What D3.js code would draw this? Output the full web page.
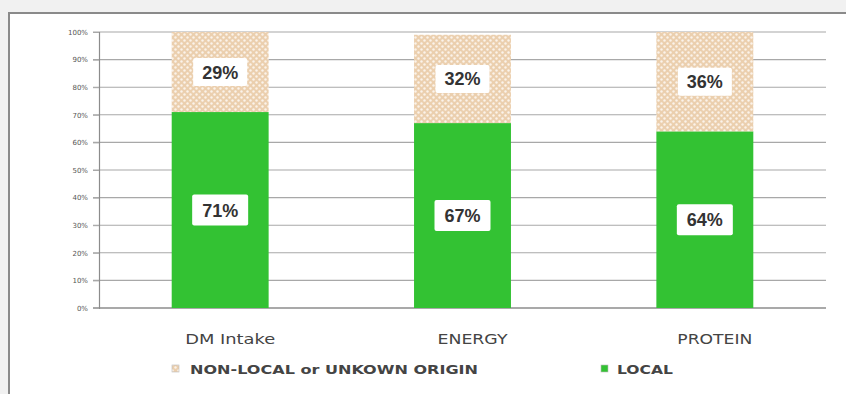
<!DOCTYPE html>
<html>
<head>
<meta charset="utf-8">
<script src="https://cdn.jsdelivr.net/npm/d3@7"></script>
<style>
  html, body { margin: 0; padding: 0; background: #f1f1f1; }
  svg { display: block; }
</style>
</head>
<body>
<svg id="chart" width="846" height="394"></svg>
<script>
// Share of intake by origin, per nutrient
const categories = ["DM Intake", "ENERGY", "PROTEIN"];
const localValues = [71, 67, 64];
const nonLocalValues = [29, 32, 36];
const yTicks = [0, 10, 20, 30, 40, 50, 60, 70, 80, 90, 100];
const seriesNames = ["NON-LOCAL or UNKOWN ORIGIN", "LOCAL"];

const svg = d3.select("#chart");
const W = 846, H = 394;

// chart frame
svg.append("rect").attr("x", 0).attr("y", 0).attr("width", W).attr("height", H).attr("fill", "#f1f1f1");
svg.append("rect").attr("x", 9).attr("y", 13).attr("width", W + 10).attr("height", H + 10)
  .attr("fill", "#ffffff").attr("stroke", "#8a8a8a").attr("stroke-width", 2);

// dotted fill for the non-local segment
const defs = svg.append("defs");
const pat = defs.append("pattern").attr("id", "dots").attr("patternUnits", "userSpaceOnUse")
  .attr("width", 6).attr("height", 6);
pat.append("rect").attr("width", 6).attr("height", 6).attr("fill", "#ebcfae");
pat.append("circle").attr("cx", 1.5).attr("cy", 1.5).attr("r", 1.2).attr("fill", "#fbf3ea");
pat.append("circle").attr("cx", 4.5).attr("cy", 4.5).attr("r", 1.2).attr("fill", "#fbf3ea");

const plot = { left: 99, right: 826, top: 32, bottom: 308 };

const x = d3.scaleBand().domain(categories).range([plot.left, plot.right])
  .paddingInner(0.6).paddingOuter(0.3);
const y = d3.scaleLinear().domain([0, 100]).range([plot.bottom, plot.top]);

// gridlines
svg.append("g").selectAll("line").data(yTicks).join("line")
  .attr("x1", plot.left - 6).attr("x2", plot.right)
  .attr("y1", d => y(d)).attr("y2", d => y(d))
  .attr("stroke", d => d === 0 ? "#8c8c8c" : "#a8a8a8")
  .attr("stroke-width", d => d === 0 ? 1.6 : 1.1);

// y axis
const yAxis = svg.append("g").attr("transform", `translate(${plot.left},0)`)
  .call(d3.axisLeft(y).tickValues(yTicks).tickFormat(d => d + "%").tickSize(6));
yAxis.select(".domain").attr("stroke", "#8c8c8c").attr("stroke-width", 1.2);
yAxis.selectAll(".tick line").attr("stroke", "#a8a8a8");
yAxis.selectAll("text").attr("font-family", "DejaVu Sans, sans-serif").attr("font-size", 7)
  .attr("fill", "#555").attr("x", -11);

// stacked data
const rows = categories.map((c, i) => ({ cat: c, local: localValues[i], nonLocal: nonLocalValues[i] }));

const bars = svg.append("g");
bars.selectAll("rect.local").data(rows).join("rect").attr("class", "local")
  .attr("x", d => x(d.cat)).attr("width", x.bandwidth())
  .attr("y", d => y(d.local)).attr("height", d => y(0) - y(d.local))
  .attr("fill", "#33c233");
bars.selectAll("rect.nonlocal").data(rows).join("rect").attr("class", "nonlocal")
  .attr("x", d => x(d.cat)).attr("width", x.bandwidth())
  .attr("y", d => y(d.local + d.nonLocal)).attr("height", d => y(d.local) - y(d.local + d.nonLocal))
  .attr("fill", "url(#dots)");

// value labels
function addLabel(g, cx, cy, txt, w, h) {
  g.append("rect").attr("x", cx - w / 2).attr("y", cy - h / 2).attr("width", w).attr("height", h)
    .attr("fill", "#ffffff").attr("rx", 2);
  g.append("text").attr("x", cx).attr("y", cy).attr("dy", "0.36em").attr("text-anchor", "middle")
    .attr("font-family", "Liberation Sans, Arial, sans-serif").attr("font-weight", "bold")
    .attr("font-size", 18).attr("fill", "#333").text(txt);
}
const labels = svg.append("g");
rows.forEach(d => {
  const cx = x(d.cat) + x.bandwidth() / 2;
  addLabel(labels, cx, y(d.local / 2), d.local + "%", 56, 31);
  addLabel(labels, cx, y(d.local + d.nonLocal / 2), d.nonLocal + "%", 54, 28);
});

// category axis labels
const catWidths = { "DM Intake": 90, "ENERGY": 70, "PROTEIN": 75 };
svg.append("g").selectAll("text").data(categories).join("text")
  .attr("x", d => x(d) + x.bandwidth() / 2 + 10).attr("y", 339).attr("dy", "0.35em")
  .attr("text-anchor", "middle")
  .attr("font-family", "DejaVu Sans, sans-serif").attr("font-size", 14).attr("fill", "#444")
  .attr("textLength", d => catWidths[d]).attr("lengthAdjust", "spacingAndGlyphs")
  .text(d => d);

// legend
const legend = svg.append("g");
const legendItems = [
  { name: seriesNames[0], fill: "url(#dots)", sx: 172, tx: 190, tw: 288 },
  { name: seriesNames[1], fill: "#33c233", sx: 601, tx: 617, tw: 56 }
];
legendItems.forEach(it => {
  legend.append("rect").attr("x", it.sx).attr("y", 365).attr("width", 7).attr("height", 7)
    .attr("fill", it.fill).attr("stroke", "#bbb").attr("stroke-width", 0.6);
  legend.append("text").attr("x", it.tx).attr("y", 369).attr("dy", "0.36em")
    .attr("font-family", "DejaVu Sans, sans-serif").attr("font-weight", "bold").attr("font-size", 13)
    .attr("fill", "#444").attr("textLength", it.tw).attr("lengthAdjust", "spacingAndGlyphs")
    .text(it.name);
});
</script>
</body>
</html>
